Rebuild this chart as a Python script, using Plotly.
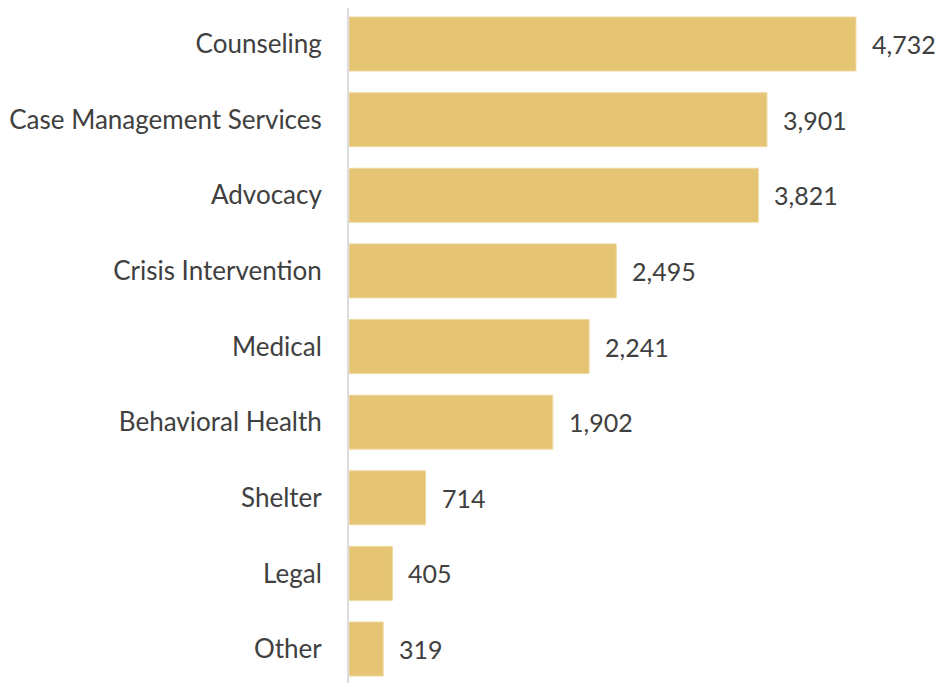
import plotly.graph_objects as go

categories = ["Counseling", "Case Management Services", "Advocacy", "Crisis Intervention",
              "Medical", "Behavioral Health", "Shelter", "Legal", "Other"]
values = [4732, 3901, 3821, 2495, 2241, 1902, 714, 405, 319]

font_family = "Lato, 'Open Sans', sans-serif"
text_color = "#404040"

fig = go.Figure()
fig.add_trace(go.Bar(
    y=categories, x=values, orientation="h",
    marker=dict(color="#E5C574", line=dict(color="#F0D9A0", width=1)),
    width=0.714,
    hoverinfo="x+y",
))
for c, v in zip(categories, values):
    fig.add_annotation(x=v, y=c, text=f"{v:,}", showarrow=False, xanchor="left",
                       xshift=14, font=dict(size=25, color=text_color, family=font_family))

fig.update_layout(
    width=943, height=683,
    margin=dict(l=341, r=0, t=0, b=0),
    paper_bgcolor="white", plot_bgcolor="white",
    showlegend=False,
    font=dict(family=font_family, size=26, color=text_color),
    xaxis=dict(range=[0, 5619], visible=False, showgrid=False, zeroline=False),
    yaxis=dict(type="category", categoryorder="array", categoryarray=categories,
               range=[8.555, -0.476], showline=True, linecolor="#DDDDDD", linewidth=2,
               ticks="", ticklabelstandoff=20, showgrid=False,
               tickfont=dict(size=26, color=text_color, family=font_family)),
)
fig.write_html("out.html")
